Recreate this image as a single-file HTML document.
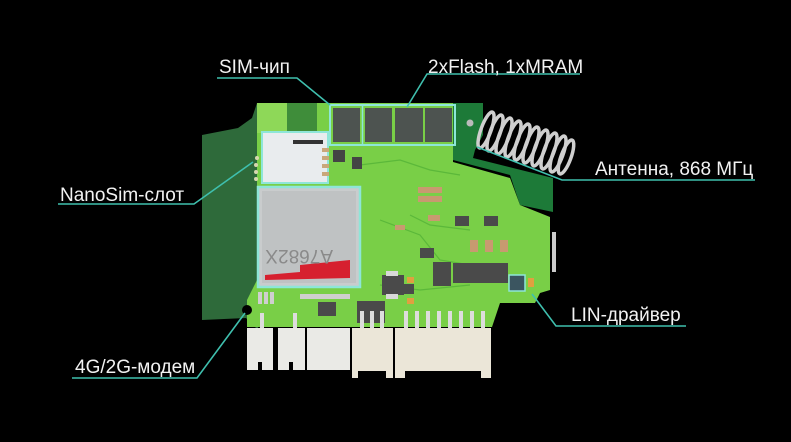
<!DOCTYPE html>
<html><head><meta charset="utf-8"><style>
html,body{margin:0;padding:0;background:#000;}
svg{display:block}
text{font-family:"Liberation Sans",sans-serif;fill:#f2f2f2;font-size:19px}
</style></head><body>
<svg width="791" height="442" viewBox="0 0 791 442" xmlns="http://www.w3.org/2000/svg">
<rect width="791" height="442" fill="#000"/>
<path d="M202,135 L238,128 L252,118 L257,103 L258,330 L246,318 L202,320 Z" fill="#2e6a3a"/>
<path d="M453,103 L483,103 L483,135 L475,150 L473,158 L553,178 L553,212 L520,205 L510,175 L453,160 Z" fill="#1d7a38"/>
<path d="M257,103 L453,103 L453,162 L510,178 L520,205 L550,217 L550,290 L540,293 L535,303 L500,303 L492,327 L247,327 L247,300 L252,290 L257,280 Z" fill="#79cf47"/>
<rect x="287" y="103" width="30" height="30" fill="#3f8d3a"/>
<rect x="257" y="103" width="30" height="30" fill="#8ed858"/>
<g stroke="#5bb83a" stroke-width="1.2" fill="none">
<path d="M380,220 L420,235 L440,260 L470,265"/><path d="M410,215 L430,225 L470,230"/>
<path d="M360,165 L400,160 L430,170 L460,175"/><path d="M380,285 L420,290 L470,285"/>
</g>
<rect x="330" y="105" width="125" height="40" fill="none" stroke="#8ee6d8" stroke-width="2"/>
<rect x="333" y="108" width="27" height="34" fill="#4d5350"/>
<rect x="365" y="108" width="27" height="34" fill="#4d5350"/>
<rect x="395" y="108" width="28" height="34" fill="#4d5350"/>
<rect x="425" y="108" width="27" height="34" fill="#4d5350"/>
<line x1="362.5" y1="106" x2="362.5" y2="144" stroke="#8ee6d8" stroke-width="1.5"/>
<circle cx="470" cy="123" r="3.5" fill="#bbb"/>
<rect x="262" y="132" width="66" height="51" fill="#e9ecee" stroke="#8ee6d8" stroke-width="2"/>
<rect x="293" y="140" width="30" height="4" fill="#333"/>
<g fill="#d7d7b0"><circle cx="257" cy="158" r="2"/><circle cx="256" cy="165" r="2"/><circle cx="256" cy="172" r="2"/><circle cx="256" cy="179" r="2"/></g>
<rect x="333" y="150" width="12" height="12" fill="#444"/><rect x="352" y="157" width="10" height="12" fill="#444"/>
<g fill="#c9a77a"><rect x="322" y="148" width="7" height="4"/><rect x="322" y="156" width="7" height="4"/><rect x="322" y="164" width="7" height="4"/><rect x="322" y="172" width="7" height="4"/></g>
<rect x="258" y="187" width="102" height="100" fill="#c9cccd" stroke="#8ee6d8" stroke-width="2.5"/>
<rect x="262" y="191" width="94" height="92" fill="#bfc2c3"/>
<path d="M300,265 L350,260 L350,278 L265,280 L265,275 L300,272 Z" fill="#d6202f"/>
<text x="0" y="0" font-size="12" style="fill:#8a8a8a" transform="translate(333,250) rotate(180)">A7682X</text>
<g fill="#c89a70"><rect x="418" y="187" width="24" height="6"/><rect x="418" y="196" width="24" height="6"/><rect x="428" y="215" width="12" height="6"/><rect x="395" y="225" width="10" height="5"/><rect x="470" y="240" width="8" height="12"/><rect x="485" y="240" width="8" height="12"/><rect x="500" y="240" width="8" height="12"/></g>
<g fill="#4a4a4a">
<rect x="455" y="216" width="14" height="10"/><rect x="484" y="216" width="14" height="10"/>
<rect x="420" y="248" width="14" height="10"/>
<rect x="453" y="263" width="55" height="20"/>
<rect x="433" y="262" width="18" height="24"/>
<rect x="382" y="275" width="22" height="20"/>
<rect x="402" y="284" width="12" height="10"/>
<rect x="357" y="301" width="28" height="22"/>
<rect x="318" y="302" width="18" height="14"/>
</g>
<g fill="#d8d8d8"><rect x="386" y="271" width="12" height="5"/><rect x="386" y="294" width="12" height="5"/></g>
<g fill="#e0a040"><rect x="407" y="277" width="7" height="6"/><rect x="407" y="298" width="7" height="6"/></g>
<rect x="509" y="275" width="16" height="16" fill="#3b5560" stroke="#8ee6d8" stroke-width="1.5"/>
<rect x="528" y="278" width="6" height="9" fill="#e0a040"/>
<g fill="#cfcfcf"><rect x="258" y="292" width="4" height="12"/><rect x="264" y="292" width="4" height="12"/><rect x="270" y="292" width="4" height="12"/><rect x="300" y="294" width="50" height="5"/></g>
<rect x="552" y="232" width="4" height="40" fill="#ccc"/>
<g fill="#eaeae6">
<rect x="247" y="328" width="26" height="42"/><rect x="278" y="328" width="27" height="42"/><rect x="307" y="328" width="43" height="42"/>
</g>
<g fill="#ebe6d8">
<rect x="352" y="328" width="41" height="50"/><rect x="395" y="328" width="96" height="50"/>
</g>
<g fill="#000"><rect x="358" y="371" width="28" height="7"/><rect x="405" y="371" width="76" height="7"/><rect x="258" y="362" width="4" height="8"/><rect x="289" y="362" width="4" height="8"/></g>
<g fill="#ddd">
<rect x="260" y="313" width="4" height="15"/><rect x="293" y="313" width="4" height="15"/>
<rect x="360" y="311" width="4" height="17"/><rect x="370" y="311" width="4" height="17"/><rect x="380" y="311" width="4" height="17"/>
<rect x="404" y="311" width="4" height="17"/><rect x="415" y="311" width="4" height="17"/><rect x="426" y="311" width="4" height="17"/><rect x="437" y="311" width="4" height="17"/><rect x="448" y="311" width="4" height="17"/><rect x="459" y="311" width="4" height="17"/><rect x="470" y="311" width="4" height="17"/><rect x="481" y="311" width="4" height="17"/>
</g>
<circle cx="247" cy="310" r="5" fill="#000"/>
<g fill="none" stroke="#cfcfcf" stroke-width="3.5">
<ellipse cx="486" cy="130" rx="5" ry="19" transform="rotate(20 486 130)"/>
<ellipse cx="495" cy="133" rx="5" ry="19" transform="rotate(20 495 133)"/>
<ellipse cx="504" cy="136" rx="5" ry="19" transform="rotate(20 504 136)"/>
<ellipse cx="513" cy="139" rx="5" ry="19" transform="rotate(20 513 139)"/>
<ellipse cx="522" cy="142" rx="5" ry="19" transform="rotate(20 522 142)"/>
<ellipse cx="531" cy="145" rx="5" ry="19" transform="rotate(20 531 145)"/>
<ellipse cx="540" cy="148" rx="5" ry="19" transform="rotate(20 540 148)"/>
<ellipse cx="549" cy="151" rx="5" ry="19" transform="rotate(20 549 151)"/>
<ellipse cx="558" cy="154" rx="5" ry="19" transform="rotate(20 558 154)"/>
<ellipse cx="566" cy="157" rx="5" ry="18" transform="rotate(20 566 157)"/>
</g>
<g stroke="#3fbfae" stroke-width="1.6" fill="none">
<polyline points="217,78 297,78 330,105"/>
<polyline points="580,74 427,74 407,107"/>
<polyline points="755,180 562,180 477,147"/>
<polyline points="58,204 194,204 253,162"/>
<polyline points="686,326 556,326 532,294"/>
<polyline points="72,378 197,378 245,313"/>
</g>
<text x="219" y="73">SIM-чип</text>
<text x="428" y="73">2xFlash, 1xMRAM</text>
<text x="595" y="175">Антенна, 868 МГц</text>
<text x="60" y="201">NanoSim-слот</text>
<text x="571" y="321">LIN-драйвер</text>
<text x="75" y="373">4G/2G-модем</text>
</svg>
</body></html>
